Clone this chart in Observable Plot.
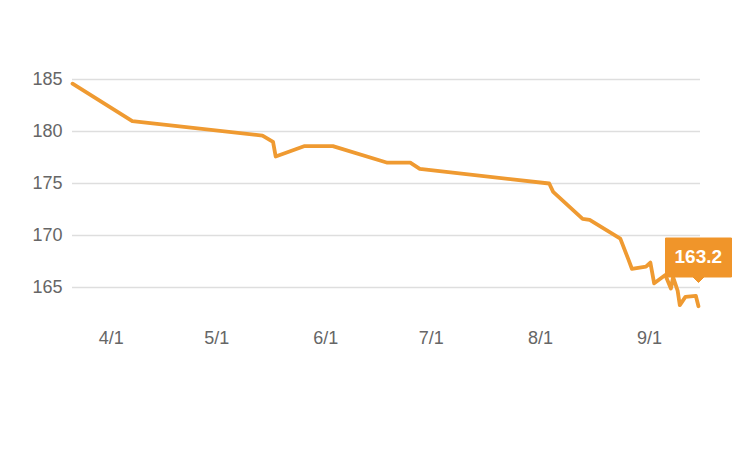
<!DOCTYPE html>
<html>
<head>
<meta charset="utf-8">
<script src="https://cdn.jsdelivr.net/npm/d3@7"></script>
<script src="https://cdn.jsdelivr.net/npm/@observablehq/plot@0.6"></script>
<style>
  html, body { margin: 0; padding: 0; background: #fff; }
  #chart { width: 748px; height: 461px; }
  g[aria-label="tip"] text { fill: #fff; }
</style>
</head>
<body>
<div id="chart"></div>
<script>
const dates = [
  "2023-03-21", "2023-04-07", "2023-05-14", "2023-05-17", "2023-05-17T18:00",
  "2023-05-26", "2023-06-03", "2023-06-18T12:00", "2023-06-25", "2023-06-27T17:00",
  "2023-08-03T12:00", "2023-08-04T15:00", "2023-08-13", "2023-08-15", "2023-08-23T17:00",
  "2023-08-26", "2023-08-27", "2023-08-31", "2023-09-01T06:00", "2023-09-02T08:00",
  "2023-09-05T12:00", "2023-09-07T02:00", "2023-09-07T17:00", "2023-09-09", "2023-09-09T15:00",
  "2023-09-11T05:00", "2023-09-14T04:00", "2023-09-14T22:00"
];
const values = [
  184.6, 181.0, 179.6, 179.0, 177.6,
  178.6, 178.6, 177.0, 177.0, 176.4,
  175.0, 174.2, 171.6, 171.5, 169.7,
  167.7, 166.8, 167.0, 167.4, 165.4,
  166.2, 164.9, 166.0, 164.7, 163.3,
  164.1, 164.2, 163.2
];
const yTicks = [165, 170, 175, 180, 185];
const xTicks = ["2023-04-01", "2023-05-01", "2023-06-01", "2023-07-01", "2023-08-01", "2023-09-01"];
const xDomain = ["2023-03-21", "2023-09-15T12:00"];
const yDomain = [162, 186];

const data = dates.map((d, i) => ({date: new Date(d), value: values[i]}));
const last = data[data.length - 1];
const fmt = d3.utcFormat("%-m/%-d");

const chart = Plot.plot({
  width: 748,
  height: 461,
  marginLeft: 72,
  marginRight: 48,
  marginTop: 68.6,
  marginBottom: 142.8,
  style: {fontFamily: "'Helvetica Neue', Helvetica, Arial, 'Liberation Sans', sans-serif", background: "#fff"},
  x: {type: "utc", domain: xDomain.map(d => new Date(d))},
  y: {domain: yDomain},
  marks: [
    Plot.gridY(yTicks, {stroke: "#dedede", strokeOpacity: 1, strokeWidth: 1.5}),
    Plot.axisY(yTicks, {tickSize: 0, tickPadding: 10, fontSize: 18, fill: "#666", label: null}),
    Plot.axisX(xTicks.map(d => new Date(d)), {tickSize: 0, tickPadding: 13, fontSize: 18, fill: "#666", label: null, tickFormat: fmt}),
    Plot.line(data, {x: "date", y: "value", stroke: "#ef9a31", strokeWidth: 3.8, strokeLinejoin: "round", strokeLinecap: "round"}),
    Plot.tip([last], {
      x: "date", y: "value", dy: -24, anchor: "bottom",
      title: d => d.value.toFixed(1),
      fill: "#f0952a", stroke: "#f0952a", strokeWidth: 1,
      fontSize: 19, fontWeight: "bold", textPadding: 9, pointerSize: 11,
      pathFilter: null
    })
  ]
});
document.getElementById("chart").appendChild(chart);
</script>
</body>
</html>
